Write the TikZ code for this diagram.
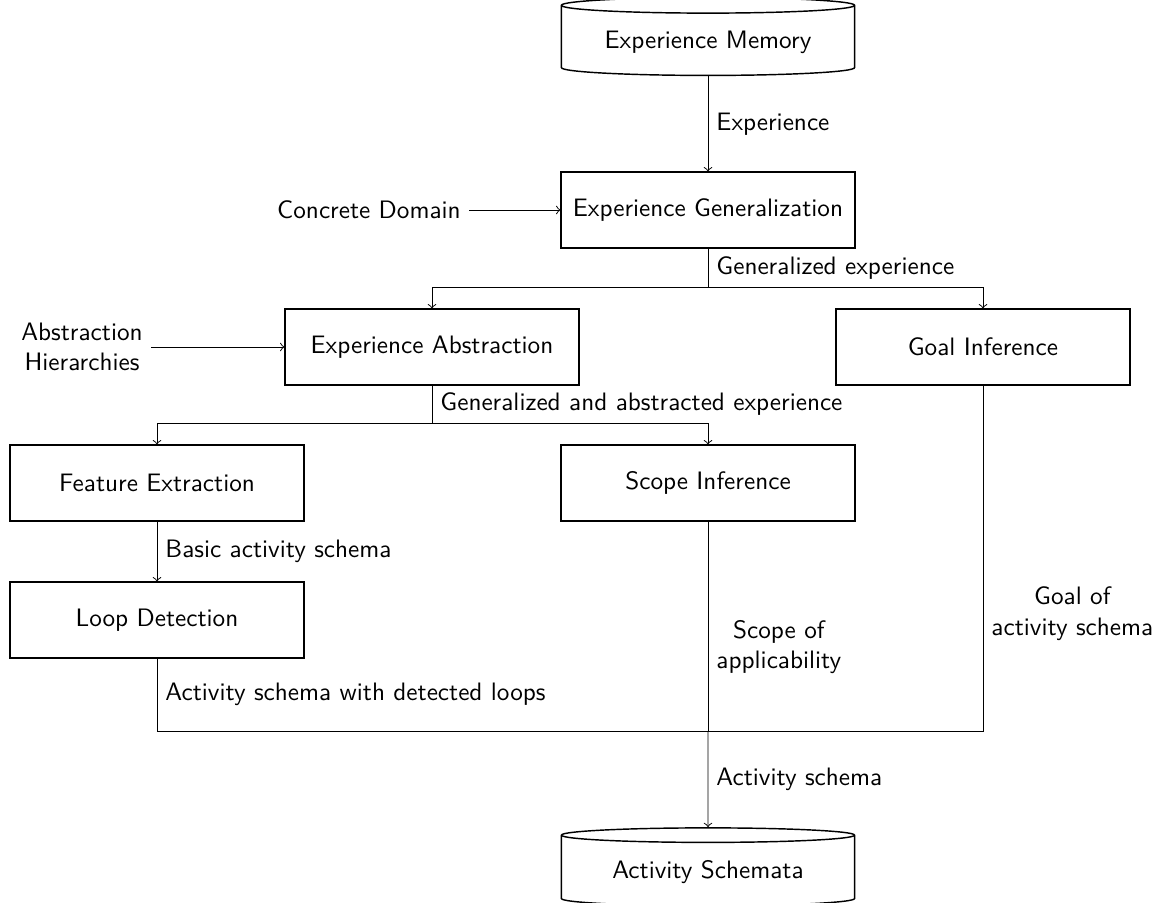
\documentclass[tikz,border=0pt]{standalone}
\usepackage{tikz}
\usetikzlibrary{shapes.geometric,arrows,positioning,calc}

\begin{document}
\begin{tikzpicture}[
    x=0.01464cm, y=-0.01464cm,
    font=\sffamily\fontsize{10.5}{12.6}\selectfont,
    process/.style={rectangle, draw=black, thick, text centered, minimum height=1.1cm, minimum width=4.29cm},
    store/.style={cylinder, shape border rotate=90, aspect=0.07, draw=black, semithick, text centered, minimum height=1.14cm, minimum width=4.29cm},
    arrow/.style={->, >=to}
]
    \useasboundingbox (0,0) rectangle (1155,903);

    \node[store] (MEMORY) at (708,42) {Experience Memory};
    \node[process] (GENERAL) at (708,210) {Experience Generalization};
    \node[process] (ABSTRACT) at (432,347) {Experience Abstraction};
    \node[process] (GOAL) at (983,347) {Goal Inference};
    \node[process] (FEATURE) at (157,483) {Feature Extraction};
    \node[process] (SCOPE) at (708,483) {Scope Inference};
    \node[process] (LOOP) at (157,620) {Loop Detection};
    \node[store] (SCHEMATA) at (708,872) {Activity Schemata};

    \node (DOMAIN) at (369,210) {Concrete Domain};
    \node[align=center] (HIERARCHY) at (82,347) {Abstraction\\Hierarchies};

    \coordinate (SPLITA) at (708,287);
    \coordinate (SPLITB) at (432,423);
    \coordinate (JOIN) at (708,731);

    \draw[arrow] (MEMORY) -- node[right] {Experience} (GENERAL);
    \draw[arrow] (DOMAIN) -- (GENERAL);
    \draw (GENERAL) -- node[right] {Generalized experience} (SPLITA);
    \draw[arrow] (SPLITA) -| (ABSTRACT);
    \draw[arrow] (SPLITA) -| (GOAL);
    \draw[arrow] (HIERARCHY) -- (ABSTRACT);
    \draw (ABSTRACT) -- node[right] {Generalized and abstracted experience} (SPLITB);
    \draw[arrow] (SPLITB) -| (FEATURE);
    \draw[arrow] (SPLITB) -| (SCOPE);
    \draw[arrow] (FEATURE) -- node[right] {Basic activity schema} (LOOP);
    \draw (LOOP) |- node[pos=0.25, right] {Activity schema with detected loops} (JOIN);
    \draw (GOAL) |- node[pos=0.33, right, align=center] {Goal of\\activity schema} (JOIN);
    \draw (SCOPE) -- node[pos=0.6, right, align=center] {Scope of\\applicability} (JOIN);
    \draw[arrow] (JOIN) -- node[right] {Activity schema} (SCHEMATA);
\end{tikzpicture}
\end{document}
